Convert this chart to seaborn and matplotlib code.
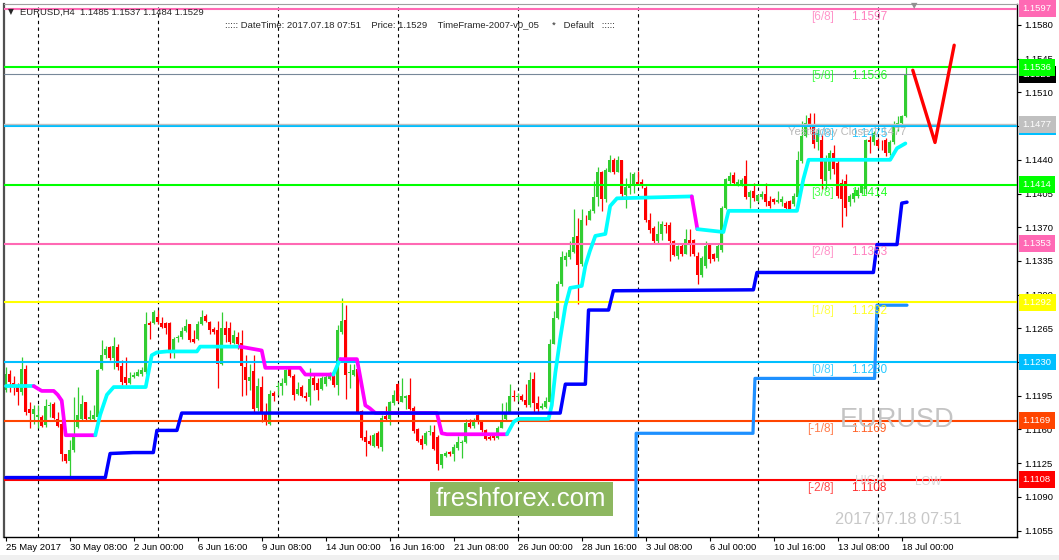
import numpy as np
import pandas as pd
import matplotlib
matplotlib.use("Agg")
import matplotlib.pyplot as plt
import matplotlib.transforms as mtransforms
from matplotlib.patches import Rectangle
import seaborn as sns

# EURUSD H4 candles, 25 May 2017 16:00 .. 18 Jul 2017 04:00 (bar index = x)
opens = [1.1201, 1.1218, 1.1208, 1.1206, 1.1199, 1.1223, 1.1181, 1.1176, 1.1173, 1.1173,
         1.1165, 1.1184, 1.1186, 1.1171, 1.1166, 1.1134, 1.1127, 1.1139, 1.1163, 1.1171,
         1.1188, 1.1171, 1.1171, 1.1173, 1.1223, 1.1237, 1.1246, 1.1234, 1.1246, 1.1226,
         1.1214, 1.1208, 1.1214, 1.1216, 1.1218, 1.1220, 1.1271, 1.1271, 1.1277, 1.1271,
         1.1271, 1.1271, 1.1242, 1.1255, 1.1256, 1.1262, 1.1269, 1.1254, 1.1254, 1.1270,
         1.1278, 1.1272, 1.1264, 1.1263, 1.1228, 1.1265, 1.1265, 1.1250, 1.1256, 1.1250,
         1.1225, 1.1210, 1.1221, 1.1182, 1.1204, 1.1177, 1.1166, 1.1198, 1.1204, 1.1205,
         1.1208, 1.1223, 1.1216, 1.1197, 1.1204, 1.1195, 1.1194, 1.1213, 1.1208, 1.1202,
         1.1207, 1.1212, 1.1216, 1.1206, 1.1261, 1.1274, 1.1219, 1.1217, 1.1223, 1.1179,
         1.1152, 1.1148, 1.1143, 1.1156, 1.1142, 1.1174, 1.1171, 1.1187, 1.1207, 1.1189,
         1.1193, 1.1196, 1.1182, 1.1160, 1.1150, 1.1145, 1.1157, 1.1157, 1.1152, 1.1123,
         1.1132, 1.1137, 1.1134, 1.1141, 1.1146, 1.1147, 1.1167, 1.1164, 1.1175, 1.1168,
         1.1159, 1.1152, 1.1154, 1.1151, 1.1162, 1.1171, 1.1178, 1.1195, 1.1194, 1.1195,
         1.1191, 1.1185, 1.1212, 1.1187, 1.1182, 1.1183, 1.1188, 1.1249, 1.1276, 1.1311,
         1.1336, 1.1339, 1.1344, 1.1361, 1.1332, 1.1378, 1.1378, 1.1387, 1.1401, 1.1427,
         1.1399, 1.1427, 1.1440, 1.1427, 1.1440, 1.1403, 1.1411, 1.1413, 1.1417, 1.1417,
         1.1411, 1.1378, 1.1369, 1.1356, 1.1363, 1.1372, 1.1372, 1.1356, 1.1340, 1.1351,
         1.1342, 1.1357, 1.1357, 1.1340, 1.1320, 1.1330, 1.1352, 1.1342, 1.1338, 1.1346,
         1.1390, 1.1418, 1.1424, 1.1414, 1.1415, 1.1423, 1.1401, 1.1408, 1.1397, 1.1401,
         1.1404, 1.1397, 1.1399, 1.1396, 1.1396, 1.1395, 1.1397, 1.1394, 1.1401, 1.1439,
         1.1465, 1.1483, 1.1475, 1.1458, 1.1461, 1.1418, 1.1428, 1.1447, 1.1437, 1.1416,
         1.1418, 1.1396, 1.1399, 1.1402, 1.1406, 1.1410, 1.1461, 1.1458, 1.1461, 1.1459,
         1.1461, 1.1447, 1.1458, 1.1474, 1.1478, 1.1485]
highs = [1.1225, 1.1222, 1.1215, 1.1208, 1.1235, 1.1227, 1.1189, 1.1185, 1.1185, 1.1175,
         1.1192, 1.1189, 1.1189, 1.1178, 1.1171, 1.1135, 1.1149, 1.1194, 1.1204, 1.1196,
         1.1189, 1.1180, 1.1185, 1.1223, 1.1253, 1.1247, 1.1247, 1.1256, 1.1249, 1.1232,
         1.1235, 1.1220, 1.1220, 1.1223, 1.1225, 1.1282, 1.1273, 1.1284, 1.1284, 1.1277,
         1.1272, 1.1272, 1.1256, 1.1258, 1.1266, 1.1275, 1.1270, 1.1263, 1.1273, 1.1284,
         1.1280, 1.1273, 1.1266, 1.1273, 1.1282, 1.1273, 1.1272, 1.1263, 1.1261, 1.1263,
         1.1237, 1.1228, 1.1237, 1.1213, 1.1216, 1.1187, 1.1201, 1.1200, 1.1209, 1.1213,
         1.1223, 1.1225, 1.1218, 1.1209, 1.1206, 1.1199, 1.1224, 1.1218, 1.1213, 1.1215,
         1.1218, 1.1220, 1.1218, 1.1268, 1.1296, 1.1289, 1.1228, 1.1228, 1.1225, 1.1180,
         1.1159, 1.1154, 1.1156, 1.1158, 1.1175, 1.1184, 1.1190, 1.1201, 1.1208, 1.1213,
         1.1196, 1.1213, 1.1184, 1.1161, 1.1154, 1.1158, 1.1165, 1.1165, 1.1154, 1.1135,
         1.1138, 1.1138, 1.1145, 1.1153, 1.1149, 1.1171, 1.1171, 1.1172, 1.1176, 1.1168,
         1.1160, 1.1154, 1.1156, 1.1164, 1.1187, 1.1189, 1.1207, 1.1201, 1.1198, 1.1197,
         1.1207, 1.1220, 1.1220, 1.1195, 1.1187, 1.1194, 1.1254, 1.1283, 1.1314, 1.1345,
         1.1344, 1.1356, 1.1389, 1.1380, 1.1389, 1.1383, 1.1389, 1.1418, 1.1433, 1.1428,
         1.1432, 1.1445, 1.1442, 1.1444, 1.1440, 1.1421, 1.1427, 1.1427, 1.1428, 1.1420,
         1.1413, 1.1385, 1.1371, 1.1376, 1.1376, 1.1375, 1.1375, 1.1357, 1.1352, 1.1354,
         1.1368, 1.1368, 1.1358, 1.1344, 1.1340, 1.1356, 1.1354, 1.1343, 1.1354, 1.1392,
         1.1421, 1.1427, 1.1427, 1.1420, 1.1421, 1.1440, 1.1409, 1.1416, 1.1404, 1.1408,
         1.1416, 1.1402, 1.1400, 1.1408, 1.1402, 1.1397, 1.1398, 1.1406, 1.1449, 1.1480,
         1.1487, 1.1489, 1.1489, 1.1472, 1.1466, 1.1445, 1.1450, 1.1455, 1.1440, 1.1420,
         1.1425, 1.1405, 1.1410, 1.1412, 1.1415, 1.1462, 1.1465, 1.1470, 1.1463, 1.1461,
         1.1463, 1.1461, 1.1480, 1.1485, 1.1487, 1.1537]
lows = [1.1199, 1.1199, 1.1196, 1.1185, 1.1196, 1.1175, 1.1161, 1.1166, 1.1161, 1.1163,
        1.1163, 1.1173, 1.1171, 1.1163, 1.1127, 1.1125, 1.1111, 1.1137, 1.1161, 1.1170,
        1.1170, 1.1170, 1.1170, 1.1171, 1.1222, 1.1234, 1.1232, 1.1223, 1.1222, 1.1206,
        1.1206, 1.1207, 1.1213, 1.1215, 1.1215, 1.1218, 1.1254, 1.1270, 1.1270, 1.1265,
        1.1259, 1.1234, 1.1234, 1.1251, 1.1254, 1.1261, 1.1251, 1.1250, 1.1253, 1.1268,
        1.1272, 1.1259, 1.1259, 1.1203, 1.1227, 1.1251, 1.1249, 1.1249, 1.1244, 1.1195,
        1.1196, 1.1201, 1.1178, 1.1179, 1.1168, 1.1165, 1.1165, 1.1190, 1.1196, 1.1196,
        1.1206, 1.1214, 1.1191, 1.1196, 1.1194, 1.1190, 1.1185, 1.1201, 1.1191, 1.1201,
        1.1205, 1.1211, 1.1204, 1.1196, 1.1259, 1.1192, 1.1203, 1.1216, 1.1177, 1.1149,
        1.1132, 1.1144, 1.1142, 1.1141, 1.1138, 1.1170, 1.1165, 1.1185, 1.1188, 1.1189,
        1.1181, 1.1180, 1.1156, 1.1147, 1.1140, 1.1144, 1.1154, 1.1139, 1.1118, 1.1120,
        1.1131, 1.1132, 1.1127, 1.1139, 1.1130, 1.1146, 1.1161, 1.1162, 1.1166, 1.1157,
        1.1149, 1.1149, 1.1149, 1.1150, 1.1161, 1.1170, 1.1177, 1.1190, 1.1190, 1.1190,
        1.1183, 1.1183, 1.1178, 1.1178, 1.1181, 1.1182, 1.1188, 1.1249, 1.1275, 1.1309,
        1.1330, 1.1337, 1.1343, 1.1290, 1.1330, 1.1372, 1.1377, 1.1385, 1.1392, 1.1387,
        1.1396, 1.1427, 1.1425, 1.1427, 1.1399, 1.1390, 1.1404, 1.1406, 1.1414, 1.1411,
        1.1375, 1.1364, 1.1354, 1.1354, 1.1357, 1.1364, 1.1335, 1.1340, 1.1337, 1.1340,
        1.1342, 1.1340, 1.1340, 1.1311, 1.1318, 1.1328, 1.1333, 1.1335, 1.1335, 1.1344,
        1.1389, 1.1414, 1.1414, 1.1413, 1.1413, 1.1399, 1.1390, 1.1397, 1.1396, 1.1399,
        1.1392, 1.1390, 1.1394, 1.1395, 1.1392, 1.1389, 1.1388, 1.1392, 1.1399, 1.1437,
        1.1464, 1.1472, 1.1452, 1.1450, 1.1410, 1.1410, 1.1420, 1.1425, 1.1400, 1.1370,
        1.1382, 1.1392, 1.1396, 1.1400, 1.1404, 1.1405, 1.1447, 1.1455, 1.1452, 1.1450,
        1.1444, 1.1445, 1.1456, 1.1470, 1.1475, 1.1484]
closes = [1.1218, 1.1209, 1.1206, 1.1199, 1.1223, 1.1178, 1.1177, 1.1181, 1.1175, 1.1164,
          1.1184, 1.1185, 1.1172, 1.1164, 1.1134, 1.1127, 1.1139, 1.1152, 1.1175, 1.1186,
          1.1171, 1.1173, 1.1175, 1.1222, 1.1237, 1.1244, 1.1234, 1.1247, 1.1225, 1.1209,
          1.1208, 1.1213, 1.1217, 1.1220, 1.1222, 1.1270, 1.1268, 1.1282, 1.1272, 1.1266,
          1.1265, 1.1242, 1.1254, 1.1256, 1.1262, 1.1267, 1.1253, 1.1251, 1.1270, 1.1277,
          1.1273, 1.1263, 1.1261, 1.1228, 1.1265, 1.1258, 1.1251, 1.1258, 1.1249, 1.1226,
          1.1211, 1.1214, 1.1181, 1.1205, 1.1176, 1.1168, 1.1197, 1.1195, 1.1205, 1.1208,
          1.1222, 1.1215, 1.1196, 1.1202, 1.1195, 1.1193, 1.1212, 1.1206, 1.1201, 1.1213,
          1.1214, 1.1216, 1.1206, 1.1263, 1.1273, 1.1217, 1.1220, 1.1222, 1.1178, 1.1151,
          1.1147, 1.1145, 1.1154, 1.1143, 1.1172, 1.1171, 1.1189, 1.1196, 1.1190, 1.1195,
          1.1195, 1.1181, 1.1158, 1.1148, 1.1144, 1.1156, 1.1158, 1.1140, 1.1124, 1.1134,
          1.1136, 1.1134, 1.1142, 1.1147, 1.1147, 1.1167, 1.1163, 1.1169, 1.1168, 1.1159,
          1.1150, 1.1150, 1.1151, 1.1161, 1.1168, 1.1178, 1.1195, 1.1194, 1.1195, 1.1191,
          1.1185, 1.1211, 1.1187, 1.1181, 1.1184, 1.1190, 1.1249, 1.1276, 1.1311, 1.1339,
          1.1340, 1.1346, 1.1360, 1.1331, 1.1378, 1.1377, 1.1387, 1.1401, 1.1427, 1.1399,
          1.1429, 1.1440, 1.1427, 1.1440, 1.1404, 1.1412, 1.1413, 1.1425, 1.1415, 1.1413,
          1.1378, 1.1367, 1.1356, 1.1363, 1.1373, 1.1371, 1.1356, 1.1341, 1.1351, 1.1342,
          1.1358, 1.1352, 1.1342, 1.1320, 1.1338, 1.1351, 1.1337, 1.1337, 1.1351, 1.1390,
          1.1420, 1.1423, 1.1416, 1.1417, 1.1419, 1.1401, 1.1407, 1.1400, 1.1403, 1.1404,
          1.1396, 1.1392, 1.1396, 1.1398, 1.1399, 1.1390, 1.1389, 1.1402, 1.1440, 1.1465,
          1.1478, 1.1476, 1.1456, 1.1468, 1.1420, 1.1439, 1.1447, 1.1430, 1.1402, 1.1399,
          1.1390, 1.1402, 1.1406, 1.1409, 1.1413, 1.1461, 1.1458, 1.1468, 1.1454, 1.1458,
          1.1447, 1.1458, 1.1474, 1.1478, 1.1485, 1.1529]

# trend line (cyan = up, magenta = down), knots at bar positions
trend_x = [0, 7, 9, 12, 13, 14, 15, 22.4, 23.6, 25.3, 27, 35, 36.5, 37.8, 40.3, 47.8,
           48.6, 58.6, 64, 64.9, 73.6, 74.9, 81.9, 83.6, 87.8, 88.6, 89.9, 91, 92.4,
           107.8, 109, 110.3, 125.3, 127, 128.2, 135.7, 136.5, 137.4, 138.6, 139.9,
           141.1, 144, 144.9, 146, 147.4, 149.9, 151.1, 152.8, 171.5, 172.9, 179.4,
           180.7, 197.8, 199.4, 200.7, 221.1, 222.8, 224.9]
trend_y = [1.1205, 1.1205, 1.1200, 1.1200, 1.1196, 1.1190, 1.1154, 1.1154, 1.1175,
           1.1196, 1.1204, 1.1204, 1.1237, 1.1240, 1.1241, 1.1241, 1.1246, 1.1246,
           1.1242, 1.1224, 1.1224, 1.1217, 1.1217, 1.1233, 1.1233, 1.1215, 1.1185,
           1.1182, 1.1177, 1.1177, 1.1156, 1.1155, 1.1155, 1.1168, 1.1171, 1.1171,
           1.1185, 1.1219, 1.1254, 1.1288, 1.1307, 1.1309, 1.1330, 1.1345, 1.1361,
           1.1363, 1.1392, 1.1400, 1.1402, 1.1368, 1.1365, 1.1387, 1.1387, 1.1420,
           1.1440, 1.1440, 1.1452, 1.1457]
trend_side = list("cmmmmmmccccccccccmmmmmcmmmmmmmmmccccccccccccccccmcccccccc")

blue_x = [0, 24.9, 26.1, 31.9, 36.9, 37.8, 42.8, 44, 138.6, 139.9, 144.9, 145.7,
          150.7, 151.9, 186.9, 187.8, 216.9, 217.8, 222.8, 224, 225.3]
blue_y = [1.1110, 1.1110, 1.1135, 1.1136, 1.1136, 1.1159, 1.1159, 1.1177, 1.1177,
          1.1207, 1.1207, 1.1284, 1.1284, 1.1304, 1.1305, 1.1323, 1.1323, 1.1352,
          1.1352, 1.1395, 1.1396]

dodger_x = [157.5, 157.6, 186.8, 187.3, 217.2, 217.8, 225.3]
dodger_y = [1.1040, 1.1156, 1.1156, 1.1213, 1.1213, 1.1289, 1.1289]

v_x = [226.75, 232.3, 237.1]
v_y = [1.1533, 1.1458, 1.1559]

mm_levels = [1.1597, 1.1536, 1.1475, 1.1414, 1.1353, 1.1292, 1.1230, 1.1169, 1.1108]
mm_names = ['[6/8]', '[5/8]', '[4/8]', '[3/8]', '[2/8]', '[1/8]', '[0/8]', '[-1/8]', '[-2/8]']
mm_colors = ['#FF69B4', '#00FF00', '#00BFFF', '#00FF00', '#FF69B4', '#FFFF00',
             '#00BFFF', '#FF4500', '#FF0000']

last_price = 1.1529
yesterday_close = 1.1477

week_starts = [8, 38, 68, 98, 128, 158, 188, 218]

y_ticks = [1.1055, 1.1090, 1.1125, 1.1160, 1.1195, 1.1230, 1.1265, 1.1300, 1.1335,
           1.1370, 1.1405, 1.1440, 1.1475, 1.1510, 1.1545, 1.1580]
# these two tick labels sit under the level boxes in the reference
hidden_ticks = [1.1230, 1.1475]
x_tick_bars = [0, 16, 32, 48, 64, 80, 96, 112, 128, 144, 160, 176, 192, 208, 224]
x_tick_labels = ['25 May 2017', '30 May 08:00', '2 Jun 00:00', '6 Jun 16:00', '9 Jun 08:00',
                 '14 Jun 00:00', '16 Jun 16:00', '21 Jun 08:00', '26 Jun 00:00',
                 '28 Jun 16:00', '3 Jul 08:00', '6 Jul 00:00', '10 Jul 16:00',
                 '13 Jul 08:00', '18 Jul 00:00']

sns.set_style("white")
plt.rcParams['font.family'] = ['Liberation Sans', 'DejaVu Sans']

W, H = 1059, 560
fig = plt.figure(figsize=(W / 100, H / 100), dpi=100)
ax = fig.add_axes([4 / W, 1 - 537 / H, 1013 / W, 533 / H])
ax.set_xlim(-0.425, 252.8)
ax.set_ylim(1.10483, 1.16018)

df = pd.DataFrame({'open': opens, 'high': highs, 'low': lows, 'close': closes})
df['x'] = np.arange(len(df))
up = df['close'] >= df['open']
cols = np.where(up, '#32CD32', '#FF0000')

# week separators
for b in week_starts:
    ax.axvline(b, color='black', lw=0.8, ls=(0, (3, 3)), zorder=1)

# candles
ax.vlines(df['x'], df['low'], df['high'], colors=cols, lw=0.9, zorder=2)
body_lo = np.minimum(df['open'], df['close'])
body_h = np.maximum((df['close'] - df['open']).abs(), 0.00007)
ax.bar(df['x'], body_h, bottom=body_lo, width=0.75, color=cols, linewidth=0, zorder=2.1)

# murrey math levels
for lev, col in zip(mm_levels, mm_colors):
    ax.axhline(lev, color=col, lw=1.5, zorder=3)
ax.axhline(last_price, color='#778899', lw=0.8, zorder=3)
ax.axhline(yesterday_close, color='#C0C0C0', lw=1.0, zorder=3)

for lev, name, col in zip(mm_levels, mm_names, mm_colors):
    ty = lev - 0.00086
    ax.text(207.1, ty, name, color=col, alpha=0.7, fontsize=8.5, ha='right', va='center', zorder=5)
    ax.text(211.3, ty, f'{lev:.4f}', color=col, alpha=0.85, fontsize=8.5, ha='left', va='center', zorder=5)
ax.text(195.6, 1.14689, 'Yesterday Close:1.1477', color='#B8B8B8', fontsize=8,
        ha='left', va='center', zorder=5)

# indicator lines
start = 0
for i in range(1, len(trend_side) + 1):
    if i == len(trend_side) or trend_side[i] != trend_side[start]:
        c = '#00FFFF' if trend_side[start] == 'c' else '#FF00FF'
        sns.lineplot(x=trend_x[start:i + 1], y=trend_y[start:i + 1], ax=ax, color=c,
                     lw=2.7, estimator=None, sort=False, zorder=4)
        start = i
sns.lineplot(x=blue_x, y=blue_y, ax=ax, color='#0000FF', lw=2.5, estimator=None, sort=False, zorder=4)
sns.lineplot(x=dodger_x, y=dodger_y, ax=ax, color='#1E90FF', lw=2.3, estimator=None, sort=False, zorder=4)
ax.plot(v_x, v_y, color='#FF0000', lw=2.4, zorder=6, clip_on=False)

# axes styling
for side in ['left', 'bottom', 'right']:
    ax.spines[side].set_color('black')
    ax.spines[side].set_linewidth(1.0)
ax.spines['left'].set_color('#505050')
ax.spines['left'].set_linewidth(1.6)
ax.spines['top'].set_color('#A0A0A0')
ax.spines['top'].set_linewidth(0.8)

ax.yaxis.tick_right()
ax.set_yticks(y_ticks)
ax.set_yticklabels(['' if t in hidden_ticks else f'{t:.4f}' for t in y_ticks])
ax.tick_params(axis='y', right=True, left=False, direction='out', length=3, width=0.8,
               labelsize=6.8, pad=2, colors='black')
ax.set_xticks(x_tick_bars)
ax.set_xticklabels(x_tick_labels, ha='left')
ax.tick_params(axis='x', bottom=True, direction='out', length=3, width=0.8,
               labelsize=6.8, pad=1.5, colors='black')
ax.set_xlabel('')
ax.set_ylabel('')

# price boxes on the right scale
blend = mtransforms.blended_transform_factory(ax.transAxes, ax.transData)
boxes = list(zip(mm_levels, mm_colors))
boxes = [(1.1529, '#000000')] + boxes + [(1.1477, '#C0C0C0')]
order = [0, 3, 10, 1, 2, 4, 5, 6, 7, 8, 9]
for k in order:
    lev, col = boxes[k]
    ax.text(1.0055, lev, f'{lev:.4f}', transform=blend, color='white', fontsize=6.8,
            ha='left', va='center', clip_on=False, zorder=7,
            bbox=dict(boxstyle='square,pad=0.42', fc=col, ec='none'))

# header texts
fig.text(8 / W, 1 - 12 / H, '\u25bc', fontsize=5.5, ha='left', va='center', family=['DejaVu Sans'])
fig.text(20 / W, 1 - 12 / H, 'EURUSD,H4  1.1485 1.1537 1.1484 1.1529', fontsize=6.8,
         ha='left', va='center')
fig.text(420 / W, 1 - 25 / H,
         '::::: DateTime: 2017.07.18 07:51    Price: 1.1529    TimeFrame-2007-v0_05     *   Default   :::::',
         fontsize=6.8, ha='center', va='center')
fig.text(914 / W, 1 - 6 / H, '\u25bc', fontsize=6, color='#909090', ha='center', va='center',
         family=['DejaVu Sans'])

# watermarks
fig.text(897 / W, 1 - 420 / H, 'EURUSD', fontsize=19.5, color='#C4C4C4', ha='center', va='center')
fig.text(870 / W, 1 - 481 / H, 'HIGH', fontsize=8.5, color='#D8D8D8', ha='center', va='center')
fig.text(928 / W, 1 - 482 / H, 'LOW', fontsize=8.5, color='#D8D8D8', ha='center', va='center')
fig.text(898 / W, 1 - 520 / H, '2017.07.18 07:51', fontsize=11.7, color='#C8C8C8',
         ha='center', va='center')
fig.patches.append(Rectangle((430 / W, 1 - 516 / H), 183 / W, 34 / H, transform=fig.transFigure,
                             fc='#8DB760', ec='none', zorder=10))
fig.text(521 / W, 1 - 499 / H, 'freshforex.com', fontsize=18.5, color='white',
         ha='center', va='center', zorder=11)
fig.patches.append(Rectangle((0, 0), 1, 5 / H, transform=fig.transFigure,
                             fc='#F0F0F0', ec='none', zorder=0))

fig.savefig('out.png', dpi=100, facecolor='white')
